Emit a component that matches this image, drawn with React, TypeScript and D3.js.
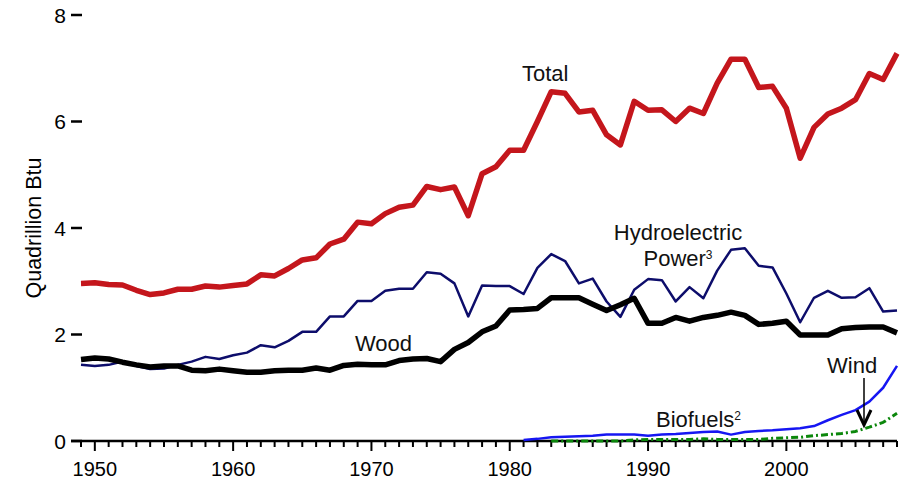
import React, { useEffect, useRef } from 'react';
import * as d3 from 'd3';

// years 1949-2008
const startYear = 1949;
const endYear = 2008;

const total = [2.96, 2.97, 2.94, 2.93, 2.83, 2.75, 2.78, 2.85, 2.85, 2.91, 2.89, 2.92, 2.95, 3.12, 3.10, 3.24, 3.40, 3.44, 3.70, 3.79,
  4.11, 4.08, 4.27, 4.39, 4.43, 4.78, 4.72, 4.77, 4.23, 5.02, 5.15, 5.46, 5.46, 6.00, 6.56, 6.53, 6.18, 6.21, 5.75, 5.56,
  6.38, 6.21, 6.22, 6.00, 6.25, 6.15, 6.72, 7.17, 7.17, 6.64, 6.66, 6.25, 5.31, 5.89, 6.14, 6.25, 6.41, 6.90, 6.79, 7.28];

const hydro = [1.43, 1.41, 1.43, 1.49, 1.41, 1.35, 1.36, 1.43, 1.49, 1.58, 1.54, 1.61, 1.66, 1.80, 1.76, 1.88, 2.05, 2.05, 2.34, 2.34,
  2.63, 2.63, 2.82, 2.86, 2.86, 3.17, 3.14, 2.96, 2.34, 2.92, 2.91, 2.91, 2.76, 3.25, 3.51, 3.38, 2.96, 3.05, 2.62, 2.33,
  2.84, 3.04, 3.02, 2.62, 2.89, 2.68, 3.20, 3.59, 3.62, 3.29, 3.26, 2.77, 2.23, 2.69, 2.82, 2.69, 2.70, 2.87, 2.43, 2.45];

const wood = [1.53, 1.56, 1.54, 1.48, 1.43, 1.39, 1.41, 1.41, 1.33, 1.32, 1.35, 1.32, 1.29, 1.29, 1.32, 1.33, 1.33, 1.37, 1.33, 1.42,
  1.44, 1.43, 1.43, 1.51, 1.54, 1.55, 1.49, 1.72, 1.85, 2.05, 2.16, 2.46, 2.47, 2.49, 2.69, 2.69, 2.69, 2.57, 2.45, 2.56,
  2.68, 2.21, 2.21, 2.32, 2.25, 2.32, 2.36, 2.42, 2.36, 2.19, 2.21, 2.25, 1.99, 1.99, 1.99, 2.11, 2.13, 2.14, 2.14, 2.03];

// 1981-2008
const biofuelsStart = 1981;
const biofuels = [0.02, 0.04, 0.07, 0.08, 0.09, 0.10, 0.12, 0.12, 0.12, 0.10, 0.12, 0.13, 0.15, 0.17, 0.18, 0.12, 0.17, 0.19, 0.20,
  0.22, 0.24, 0.28, 0.39, 0.49, 0.58, 0.74, 1.00, 1.41];

// 1983-2008
const windStart = 1983;
const wind = [0.00, 0.00, 0.00, 0.00, 0.00, 0.00, 0.02, 0.03, 0.03, 0.03, 0.03, 0.04, 0.03, 0.03, 0.03, 0.03, 0.05, 0.06, 0.07,
  0.10, 0.12, 0.14, 0.18, 0.26, 0.35, 0.52];

const yTicks = [0, 2, 4, 6, 8];
const xLabels = [1950, 1960, 1970, 1980, 1990, 2000];

const font = 'Liberation Sans, Arial, Helvetica, sans-serif';

const App = () => {
  const ref = useRef<SVGSVGElement>(null);

  useEffect(() => {
    const svg = d3.select(ref.current);
    svg.selectAll('*').remove();

    const x = d3.scaleLinear().domain([startYear, endYear]).range([81, 897]);
    const y = d3.scaleLinear().domain([0, 8]).range([441, 15]);

    const toPts = (vals: number[], from: number) => vals.map((v, i) => [from + i, v] as [number, number]);
    const line = d3.line<[number, number]>().x(d => x(d[0])).y(d => y(d[1]));

    // axes
    svg.append('line')
      .attr('x1', 71).attr('x2', x(endYear)).attr('y1', y(0)).attr('y2', y(0))
      .attr('stroke', '#000').attr('stroke-width', 2.5);

    const years = d3.range(startYear, endYear + 1);
    svg.selectAll('.xt').data(years).enter().append('line')
      .attr('x1', d => x(d)).attr('x2', d => x(d))
      .attr('y1', y(0)).attr('y2', d => y(0) + (d % 10 === 0 ? 10 : 6))
      .attr('stroke', '#000').attr('stroke-width', 2);

    svg.selectAll('.xl').data(xLabels).enter().append('text')
      .attr('x', d => x(d)).attr('y', 476)
      .attr('text-anchor', 'middle')
      .attr('font-family', font).attr('font-size', 20)
      .text(d => d);

    svg.selectAll('.yt').data(yTicks).enter().append('line')
      .attr('x1', 71).attr('x2', 82).attr('y1', d => y(d)).attr('y2', d => y(d))
      .attr('stroke', '#000').attr('stroke-width', 2.5);

    svg.selectAll('.yl').data(yTicks).enter().append('text')
      .attr('x', 66).attr('y', d => y(d) + 7.5)
      .attr('text-anchor', 'end')
      .attr('font-family', font).attr('font-size', 21)
      .text(d => d);

    svg.append('text')
      .attr('transform', 'translate(41,228) rotate(-90)')
      .attr('text-anchor', 'middle')
      .attr('font-family', font).attr('font-size', 21.5)
      .text('Quadrillion Btu');

    // series
    const series = [
      { vals: wind, from: windStart, color: '#0b870b', width: 3, dash: '7,3,2,3' },
      { vals: biofuels, from: biofuelsStart, color: '#1616f2', width: 2.5, dash: null },
      { vals: hydro, from: startYear, color: '#0d0d6b', width: 2.5, dash: null },
      { vals: wood, from: startYear, color: '#000000', width: 5.5, dash: null },
      { vals: total, from: startYear, color: '#c4161c', width: 5.5, dash: null },
    ];

    series.forEach(s => {
      svg.append('path')
        .attr('d', line(toPts(s.vals, s.from)))
        .attr('fill', 'none')
        .attr('stroke', s.color)
        .attr('stroke-width', s.width)
        .attr('stroke-linejoin', 'round')
        .attr('stroke-dasharray', s.dash);
    });

    // labels
    const label = (tx: number, ty: number, anchor: string) =>
      svg.append('text').attr('x', tx).attr('y', ty).attr('text-anchor', anchor)
        .attr('font-family', font).attr('font-size', 22).attr('fill', '#111');

    label(522, 81, 'start').text('Total');
    label(355, 351, 'start').text('Wood');
    label(827, 373, 'start').text('Wind');
    label(678, 240, 'middle').text('Hydroelectric');
    const pw = label(678, 266, 'middle');
    pw.append('tspan').text('Power');
    pw.append('tspan').attr('font-size', 12).attr('dy', -7).text('3');
    const bf = label(656, 427, 'start');
    bf.append('tspan').text('Biofuels');
    bf.append('tspan').attr('font-size', 12).attr('dy', -7).text('2');

    // arrow from Wind label
    svg.append('line')
      .attr('x1', 864).attr('x2', 864).attr('y1', 378).attr('y2', 424)
      .attr('stroke', '#000').attr('stroke-width', 1.5);
    svg.append('path')
      .attr('d', 'M857,410 L864,425 L871,410')
      .attr('fill', 'none').attr('stroke', '#000').attr('stroke-width', 3)
      .attr('stroke-linejoin', 'miter');
  }, []);

  return (
    <svg ref={ref} width={905} height={484}
      style={{ position: 'absolute', left: 0, top: 0, background: '#fff' }} />
  );
};

export default App;
